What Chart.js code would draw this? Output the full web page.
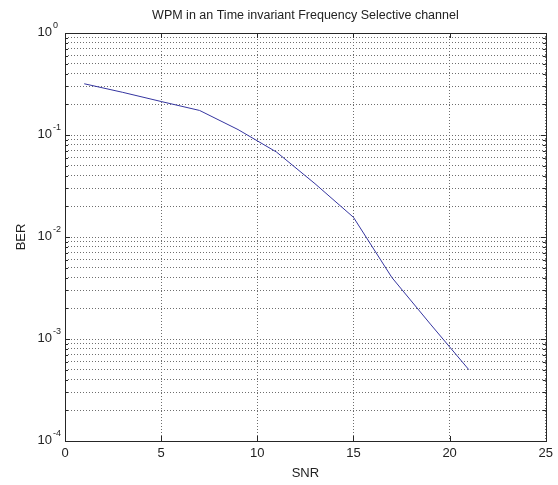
<!DOCTYPE html>
<html>
<head>
<meta charset="utf-8">
<script src="https://cdn.jsdelivr.net/npm/chart.js@4.4.0/dist/chart.umd.min.js"></script>
<style>
  html, body { margin: 0; padding: 0; background: #fff; }
  canvas { display: block; }
</style>
</head>
<body>
<canvas id="myChart" width="558" height="485"></canvas>
<script>
// values
const snr = [1, 3, 5, 7, 9, 11, 13, 15, 17, 19, 21];
const ber = [0.318, 0.262, 0.213, 0.174, 0.113, 0.068, 0.0333, 0.0156, 0.0040, 0.0014, 0.0005];

const xTicks = [0, 5, 10, 15, 20, 25];
const yDecades = [1e-4, 1e-3, 1e-2, 1e-1, 1];
const yMinorSteps = [2, 3, 4, 5, 6, 7, 8, 9];

// full list of log grid positions (decades + minor steps)
const yTicks = [];
yDecades.forEach((d, i) => {
  yTicks.push(d);
  if (i < yDecades.length - 1) yMinorSteps.forEach(m => yTicks.push(+(d * m).toPrecision(3)));
});

Chart.defaults.font.family = "'Liberation Sans', Arial, sans-serif";
Chart.defaults.font.size = 13;
Chart.defaults.color = '#222';

// matlab style box, inner ticks and 10^n labels
const matlabAxes = {
  id: 'matlabAxes',
  afterDraw(chart) {
    const { ctx, chartArea: a, scales: { x, y } } = chart;
    ctx.save();
    ctx.strokeStyle = '#262626';
    ctx.lineWidth = 1;
    ctx.beginPath();
    xTicks.forEach(v => {
      const px = Math.round(x.getPixelForValue(v)) + 0.5;
      ctx.moveTo(px, a.bottom); ctx.lineTo(px, a.bottom - 5);
      ctx.moveTo(px, a.top); ctx.lineTo(px, a.top + 5);
    });
    yTicks.forEach(v => {
      const py = Math.round(y.getPixelForValue(v)) + 0.5;
      const len = yDecades.includes(v) ? 5 : 3;
      ctx.moveTo(a.left, py); ctx.lineTo(a.left + len, py);
      ctx.moveTo(a.right, py); ctx.lineTo(a.right - len, py);
    });
    ctx.stroke();
    ctx.strokeRect(Math.round(a.left) + 0.5, Math.round(a.top) + 0.5,
      Math.round(a.right - a.left), Math.round(a.bottom - a.top));

    ctx.fillStyle = '#222';
    yDecades.forEach(v => {
      const py = y.getPixelForValue(v);
      ctx.font = "13px 'Liberation Sans', Arial, sans-serif";
      ctx.textAlign = 'right';
      ctx.textBaseline = 'middle';
      ctx.fillText('10', a.left - 13, py - 1);
      ctx.font = "9px 'Liberation Sans', Arial, sans-serif";
      ctx.textAlign = 'left';
      ctx.textBaseline = 'alphabetic';
      ctx.fillText(String(Math.round(Math.log10(v))), a.left - 12, py - 5);
    });
    ctx.restore();
  }
};

const ctx = document.getElementById('myChart');

const myChart = new Chart(ctx, {
  type: 'line',
  plugins: [matlabAxes],
  data: {
    datasets: [
      {
        label: 'BER',
        data: snr.map((s, i) => ({ x: s, y: ber[i] })),
        borderColor: '#3535a0',
        borderWidth: 1,
        pointRadius: 0,
        tension: 0,
        fill: false,
      },
    ],
  },
  options: {
    responsive: false,
    devicePixelRatio: 1,
    animation: false,
    layout: {
      padding: { top: 0, right: 12, bottom: 0, left: 0 },
    },
    plugins: {
      legend: { display: false },
      tooltip: { enabled: false },
      title: {
        display: true,
        fullSize: false,
        text: 'WPM in an Time invariant Frequency Selective channel',
        color: '#222',
        font: { size: 12.5, weight: 'normal' },
        padding: { top: 8, bottom: 10 },
      },
    },
    scales: {
      x: {
        type: 'linear',
        min: 0,
        max: 25,
        afterBuildTicks: (scale) => { scale.ticks = xTicks.map(v => ({ value: v })); },
        afterFit: (scale) => { scale.height = 44; },
        grid: {
          color: '#6e6e6e',
          drawTicks: false,
        },
        border: { display: false, dash: [1, 2] },
        ticks: { padding: 5, color: '#222' },
        title: {
          display: true,
          text: 'SNR',
          color: '#222',
          padding: { top: 0, bottom: 4 },
        },
      },
      y: {
        type: 'logarithmic',
        min: 1e-4,
        max: 1,
        afterBuildTicks: (scale) => { scale.ticks = yTicks.map(v => ({ value: v })); },
        afterFit: (scale) => { scale.width = 65; },
        grid: {
          color: '#6e6e6e',
          drawTicks: false,
        },
        border: { display: false, dash: [1, 2] },
        ticks: { display: false },
        title: {
          display: true,
          text: 'BER',
          color: '#222',
          padding: { top: 14, bottom: 0 },
        },
      },
    },
  },
});
</script>
</body>
</html>
